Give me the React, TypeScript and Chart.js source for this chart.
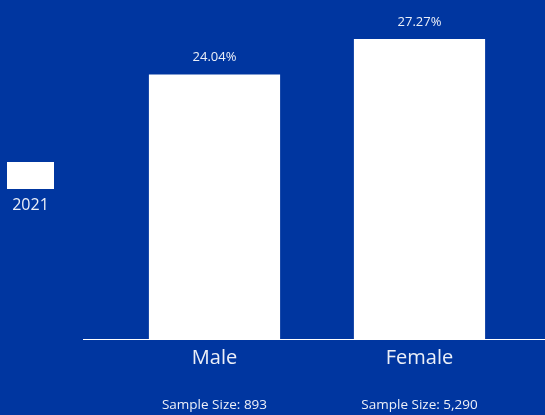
import React, { useEffect, useRef } from "react";
import { Chart, registerables } from "chart.js";

Chart.register(...registerables);

const categories: string[] = ["Male", "Female"];
const values2021: number[] = [24.04, 27.27];
const sampleSizes: string[] = ["Sample Size: 893", "Sample Size: 5,290"];
const seriesLabel = "2021";

const BG = "#0036A0";
const TEXT = "rgba(255,255,255,0.92)";
const FONT = "'Open Sans', sans-serif";

const overlayPlugin = {
  id: "overlay",
  afterDatasetsDraw(chart: any) {
    const { ctx, chartArea } = chart;
    const meta = chart.getDatasetMeta(0);
    const xScale = chart.scales.x;
    ctx.save();
    // axis line
    ctx.strokeStyle = "#ffffff";
    ctx.lineWidth = 1;
    ctx.beginPath();
    ctx.moveTo(83, chartArea.bottom + 0.5);
    ctx.lineTo(chart.width, chartArea.bottom + 0.5);
    ctx.stroke();
    // value labels
    ctx.fillStyle = TEXT;
    ctx.textAlign = "center";
    ctx.textBaseline = "middle";
    ctx.font = `13px ${FONT}`;
    meta.data.forEach((bar: any, i: number) => {
      ctx.fillText(values2021[i].toFixed(2) + "%", bar.x, bar.y - 17);
    });
    // sample sizes
    ctx.font = `13.5px ${FONT}`;
    categories.forEach((_c, i) => {
      ctx.fillText(sampleSizes[i], xScale.getPixelForValue(i), 405);
    });
    // legend
    ctx.fillStyle = "#ffffff";
    ctx.fillRect(7, 162, 47, 27);
    ctx.fillStyle = TEXT;
    ctx.font = `16px ${FONT}`;
    ctx.fillText(seriesLabel, 30.5, 205);
    ctx.restore();
  },
};

export default function App() {
  const ref = useRef<HTMLCanvasElement | null>(null);
  useEffect(() => {
    document.body.style.margin = "0";
    document.body.style.background = BG;
    const chart = new Chart(ref.current as HTMLCanvasElement, {
      type: "bar",
      data: {
        labels: categories,
        datasets: [
          {
            label: seriesLabel,
            data: values2021,
            backgroundColor: "#ffffff",
            borderWidth: 0,
            categoryPercentage: 1,
            barPercentage: 0.64,
          },
        ],
      },
      options: {
        responsive: false,
        animation: false,
        layout: { padding: { left: 112, right: 23, top: 9, bottom: 38 } },
        plugins: {
          legend: { display: false },
          tooltip: { enabled: false },
        },
        scales: {
          x: {
            grid: { display: false, drawTicks: false },
            border: { display: false },
            ticks: {
              color: TEXT,
              font: { family: FONT, size: 20 },
              padding: 7,
              maxRotation: 0,
            },
          },
          y: {
            display: false,
            min: 0,
            max: 30,
          },
        },
      },
      plugins: [overlayPlugin],
    });
    return () => chart.destroy();
  }, []);
  return (
    <div style={{ width: 545, height: 415, background: BG }}>
      <canvas ref={ref} width={545} height={415} />
    </div>
  );
}
